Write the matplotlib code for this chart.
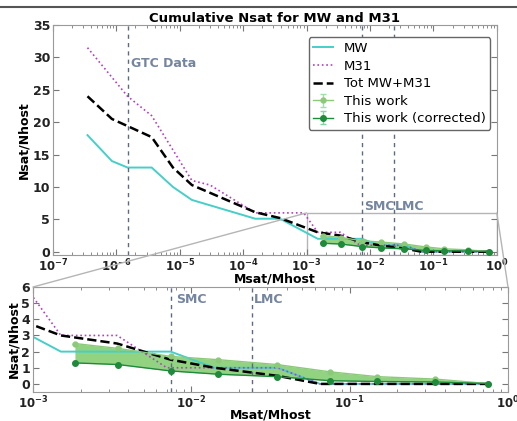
import matplotlib
matplotlib.use("Agg")
import matplotlib.pyplot as plt
from matplotlib.patches import Rectangle, ConnectionPatch
from matplotlib.lines import Line2D

plt.rcParams['font.family'] = ['DejaVu Sans']
plt.rcParams['font.weight'] = 'bold'
plt.rcParams['mathtext.default'] = 'bf'

# cumulative satellite counts
mw_x = [3.5e-7, 8.5e-7, 1.5e-6, 3.6e-6, 7.8e-6, 1.55e-5, 1.55e-4, 3.8e-4,
        1.5e-3, 7.4e-3, 1.4e-2, 3.5e-2, 6.5e-2, 0.75]
mw_y = [18, 14, 13, 13, 10, 8, 5.1, 5.1, 2, 2, 1, 1, 0, 0]

m31_x = [3.5e-7, 1.5e-6, 3.6e-6, 1.55e-5, 3e-5, 1.55e-4, 9e-4, 1.5e-3,
         3.4e-3, 7e-3, 3.5e-2, 6.5e-2, 0.75]
m31_y = [31.5, 24, 21, 11, 10.3, 6, 6, 3, 3, 1, 1, 0, 0]

tot_x = [3.5e-7, 8.5e-7, 1.5e-6, 3.6e-6, 7.8e-6, 1.55e-5, 1.55e-4, 3.8e-4,
         1.5e-3, 3.4e-3, 7.4e-3, 1.4e-2, 3.5e-2, 6.5e-2, 0.75]
tot_y = [24, 20.5, 19.4, 17.7, 13, 10.3, 6.1, 5.2, 3, 2.5, 1.5, 1.0, 0.5, 0, 0]

work_x = [1.84e-3, 3.44e-3, 7.45e-3, 1.48e-2, 3.47e-2, 7.5e-2, 0.149, 0.347, 0.75]
work_y = [2.5, 2.2, 1.7, 1.5, 1.2, 0.75, 0.45, 0.3, 0.02]
work_err = [0, 0, 0, 0, 0, 0, 0, 0, 0]
corr_y = [1.3, 1.2, 0.8, 0.6, 0.45, 0.2, 0.15, 0.12, 0.02]
corr_err = [0, 0, 0, 0, 0, 0, 0, 0, 0]

# reference masses
gtc_x = 1.5e-6
smc_x = 7.4e-3
lmc_x = 2.4e-2

zoom_xlim = (1e-3, 1.0)
zoom_ylim = (-0.5, 6)

c_mw = '#45cfc8'
c_m31 = '#b040c0'
c_work = '#8cc97a'
c_corr = '#1f8a3c'
c_fill = '#86cf75'
c_ref = '#5d6b80'
c_reftext = '#7585a0'
c_frame = '#9a9a9a'


def style_axes(ax):
    ax.set_xscale('log')
    for s in ax.spines.values():
        s.set_color(c_frame)
    ax.tick_params(which='both', direction='in', top=True, right=True,
                   colors='#777777', labelcolor='#222222', labelsize=9, pad=2)
    ax.tick_params(axis='x', labelsize=8.5)
    ax.tick_params(which='major', length=4)
    ax.tick_params(which='minor', length=2)


def draw_series(ax):
    ax.plot(mw_x, mw_y, color=c_mw, lw=1.4, label='MW')
    ax.plot(m31_x, m31_y, color=c_m31, lw=1.2, ls=':', label='M31')
    ax.plot(tot_x, tot_y, color='black', lw=1.8, ls='--', label='Tot MW+M31')
    ax.fill_between(work_x, corr_y, work_y, color=c_fill, alpha=0.9,
                    lw=0, zorder=1)
    ax.errorbar(work_x, work_y, yerr=work_err, color=c_work, marker='o',
                ms=3.5, lw=1, capsize=2, ecolor='#9ee0a8',
                label='This work', zorder=3)
    ax.errorbar(work_x, corr_y, yerr=corr_err, color=c_corr, marker='o',
                ms=4, lw=1, capsize=2, ecolor='#7fd8a0',
                label='This work (corrected)', zorder=3)


fig = plt.figure(figsize=(5.17, 4.21), dpi=100)
ax_top = fig.add_axes([0.1025, 0.3943, 0.8585, 0.5463])
ax_bot = fig.add_axes([0.0638, 0.0689, 0.9188, 0.2494])

# top panel
style_axes(ax_top)
draw_series(ax_top)
for xv in (gtc_x, smc_x, lmc_x):
    ax_top.axvline(xv, color=c_ref, ls='--', lw=1, dashes=(3, 3))
ax_top.text(gtc_x * 1.12, 29, 'GTC Data', color=c_reftext, fontsize=9,
            fontweight='bold', va='center')
ax_top.text(smc_x * 1.08, 7, 'SMC', color=c_reftext, fontsize=9,
            fontweight='bold', va='center')
ax_top.text(lmc_x * 1.04, 7, 'LMC', color=c_reftext, fontsize=9,
            fontweight='bold', va='center')
ax_top.add_patch(Rectangle((zoom_xlim[0], zoom_ylim[0]),
                           zoom_xlim[1] - zoom_xlim[0],
                           zoom_ylim[1] - zoom_ylim[0],
                           fill=False, ec='#b5b5b5', lw=1, zorder=0))
ax_top.set_xlim(1e-7, 1)
ax_top.set_ylim(-0.5, 35)
ax_top.set_yticks([0, 5, 10, 15, 20, 25, 30, 35])
ax_top.set_title('Cumulative Nsat for MW and M31', fontsize=9.5,
                 fontweight='bold', pad=2)
ax_top.set_xlabel('Msat/Mhost', fontsize=9, fontweight='bold', labelpad=-1)
ax_top.set_ylabel('Nsat/Nhost', fontsize=9, fontweight='bold', labelpad=2)
ax_top.legend(loc='upper right', bbox_to_anchor=(1.0, 0.975),
              prop={'size': 9.5, 'weight': 'normal'},
              handlelength=1.5, handletextpad=0.8, labelspacing=0.35,
              borderpad=0.35, fancybox=True, edgecolor='#666666',
              framealpha=1)

# zoomed panel
style_axes(ax_bot)
draw_series(ax_bot)
for xv in (smc_x, lmc_x):
    ax_bot.axvline(xv, color=c_ref, ls='--', lw=1, dashes=(3, 3))
ax_bot.text(smc_x * 1.09, 5.2, 'SMC', color=c_reftext, fontsize=9,
            fontweight='bold', va='center')
ax_bot.text(lmc_x * 1.04, 5.2, 'LMC', color=c_reftext, fontsize=9,
            fontweight='bold', va='center')
ax_bot.set_xlim(*zoom_xlim)
ax_bot.set_ylim(*zoom_ylim)
ax_bot.set_yticks([0, 1, 2, 3, 4, 5, 6])
ax_bot.set_xlabel('Msat/Mhost', fontsize=9, fontweight='bold', labelpad=-2)
ax_bot.set_ylabel('Nsat/Nhost', fontsize=9, fontweight='bold', labelpad=1)

# connectors between the zoom box and the lower panel
for xv in (zoom_xlim[0], zoom_xlim[1]):
    con = ConnectionPatch(xyA=(xv, zoom_ylim[1]), coordsA=ax_top.transData,
                          xyB=(xv, zoom_ylim[1]), coordsB=ax_bot.transData,
                          color='#b5b5b5', lw=1)
    fig.add_artist(con)

# frame line at the top of the figure
fig.add_artist(Line2D([0, 1], [0.983, 0.983], transform=fig.transFigure,
                      color='#555555', lw=1.5))

fig.savefig('out.png', dpi=100)
